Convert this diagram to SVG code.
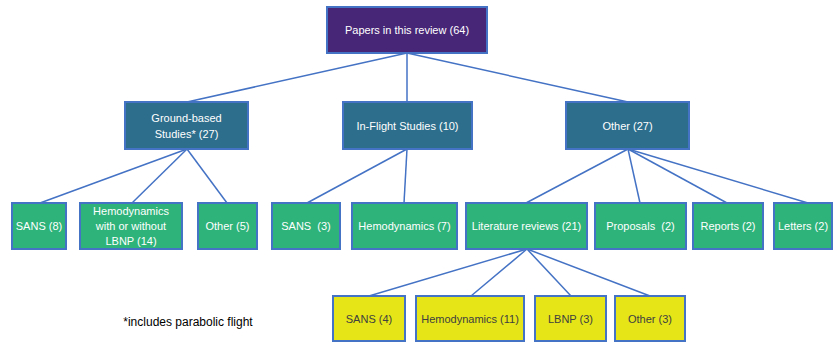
<svg xmlns="http://www.w3.org/2000/svg" width="837" height="343" viewBox="0 0 837 343">
<style>
rect{stroke:#4472C4;stroke-width:2}
.p{fill:#472677}
.t{fill:#2D6E8C}
.g{fill:#2EB37A}
.y{fill:#E5E517}
text{font-family:"Liberation Sans",Arial,sans-serif;font-size:11px;text-anchor:middle;dominant-baseline:central;fill:#FFFFFF}
.dk{fill:#404040}
#conn line{stroke:#4472C4;stroke-width:1.5}
</style>
<rect width="837" height="343" fill="#FFFFFF" style="stroke:none"/>
<g id="conn">
<line x1="407" y1="53" x2="187" y2="102"/>
<line x1="407" y1="53" x2="407" y2="102"/>
<line x1="407" y1="53" x2="628" y2="102"/>
<line x1="187" y1="149" x2="40" y2="203"/>
<line x1="187" y1="149" x2="132" y2="203"/>
<line x1="187" y1="149" x2="227" y2="203"/>
<line x1="407" y1="149" x2="307" y2="203"/>
<line x1="407" y1="149" x2="404" y2="203"/>
<line x1="628" y1="149" x2="526" y2="203"/>
<line x1="628" y1="149" x2="640" y2="203"/>
<line x1="628" y1="149" x2="727" y2="203"/>
<line x1="628" y1="149" x2="808" y2="203"/>
<line x1="527" y1="249" x2="369" y2="296"/>
<line x1="527" y1="249" x2="471" y2="296"/>
<line x1="527" y1="249" x2="571" y2="296"/>
<line x1="527" y1="249" x2="650" y2="296"/>
</g>
<g id="root"><rect class="p" x="327" y="7" width="160" height="46"/><text x="407" y="30">Papers in this review (64)</text></g>
<g id="ground"><rect class="t" x="125" y="102" width="123" height="47"/><text x="186.5" y="118">Ground-based</text><text x="186.5" y="134">Studies* (27)</text></g>
<g id="inflight"><rect class="t" x="343" y="102" width="129" height="47"/><text x="407.5" y="126">In-Flight Studies (10)</text></g>
<g id="other27"><rect class="t" x="566" y="102" width="123" height="47"/><text x="627.5" y="126">Other (27)</text></g>
<g id="sans8"><rect class="g" x="12" y="203" width="54" height="46"/><text x="39" y="226">SANS (8)</text></g>
<g id="hemo14"><rect class="g" x="80" y="203" width="102" height="46"/><text x="131" y="211">Hemodynamics</text><text x="131" y="226">with or without</text><text x="131" y="241">LBNP (14)</text></g>
<g id="other5"><rect class="g" x="198" y="203" width="59" height="46"/><text x="227.5" y="226">Other (5)</text></g>
<g id="sans3"><rect class="g" x="272" y="203" width="68" height="46"/><text x="306" y="226" xml:space="preserve">SANS  (3)</text></g>
<g id="hemo7"><rect class="g" x="352" y="203" width="105" height="46"/><text x="404.5" y="226">Hemodynamics (7)</text></g>
<g id="lit"><rect class="g" x="466" y="203" width="121" height="46"/><text x="526.5" y="226">Literature reviews (21)</text></g>
<g id="proposals"><rect class="g" x="595" y="203" width="91" height="46"/><text x="640.5" y="226" xml:space="preserve">Proposals  (2)</text></g>
<g id="reports"><rect class="g" x="693" y="203" width="70" height="46"/><text x="728" y="226">Reports (2)</text></g>
<g id="letters"><rect class="g" x="774" y="203" width="58" height="46"/><text x="803" y="226">Letters (2)</text></g>
<g id="sans4"><rect class="y" x="333" y="296" width="72" height="45"/><text class="dk" x="369" y="319">SANS (4)</text></g>
<g id="hemo11"><rect class="y" x="416" y="296" width="108" height="45"/><text class="dk" x="470" y="319">Hemodynamics (11)</text></g>
<g id="lbnp"><rect class="y" x="535" y="296" width="71" height="45"/><text class="dk" x="570.5" y="319">LBNP (3)</text></g>
<g id="other3"><rect class="y" x="615" y="296" width="70" height="45"/><text class="dk" x="650" y="319">Other (3)</text></g>
<text x="188" y="322" style="fill:#000000;font-size:12px">*includes parabolic flight</text>
</svg>
